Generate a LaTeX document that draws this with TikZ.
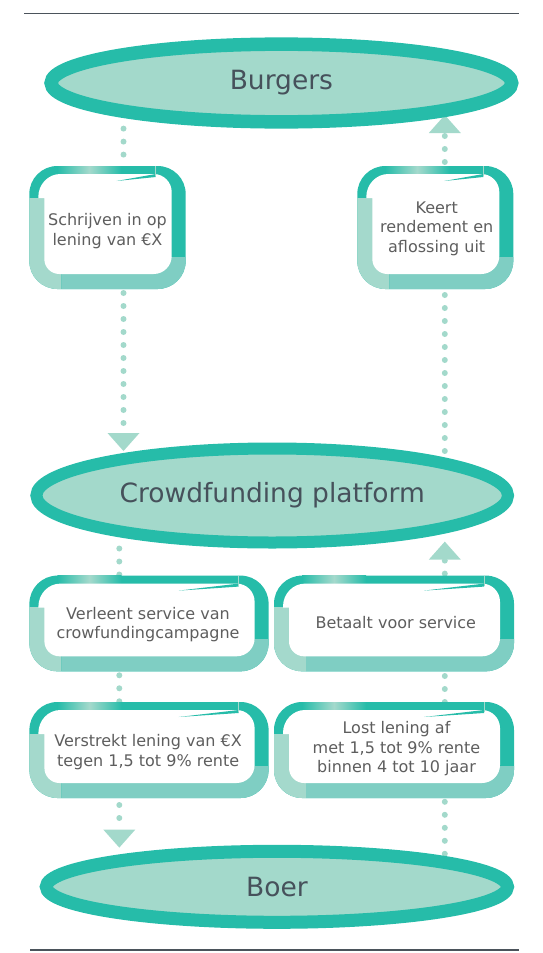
\documentclass[tikz,border=0pt]{standalone}
\usepackage{fontspec}
\setmainfont{DejaVu Sans}
\usetikzlibrary{shapes.geometric,arrows.meta}
\definecolor{tealdark}{HTML}{26BCA9}
\definecolor{teallight}{HTML}{A4D9CC}
\definecolor{tealmid}{HTML}{7FCEC3}
\definecolor{ellfill}{HTML}{A3D9CB}
\definecolor{elltext}{HTML}{46515B}
\definecolor{boxtext}{HTML}{5E5E5E}
\definecolor{rulegray}{HTML}{4B535B}
\pgfdeclarelayer{bg}
\pgfsetlayers{bg,main}

% name, L, T, R, B  (pixel coordinates, y downwards)
\newcommand{\flowbox}[5]{%
  \fill[tealdark, rounded corners=28pt] (#2,#3) rectangle (#4,#5);
  \begin{scope}
    \clip (#2,{#3+32}) rectangle ({#2+32},#5);
    \fill[teallight, rounded corners=28pt] (#2,#3) rectangle (#4,#5);
  \end{scope}
  \begin{scope}
    \clip ({#2+32},{#5-32}) rectangle (#4,#5);
    \fill[tealmid, rounded corners=28pt] (#2,#3) rectangle (#4,#5);
  \end{scope}
  \shade[left color=tealdark, right color=tealdark, middle color=teallight]
    ({#2+28},#3) rectangle ({#2+92},{#3+9});
  \fill[white] ({#2+15},{#3+32}) -- ({#2+15},{#5-30})
    arc[start angle=180, end angle=90, radius=15]
    -- ({#4-32},{#5-15})
    arc[start angle=90, end angle=0, radius=18]
    -- ({#4-14},{#3+26})
    arc[start angle=0, end angle=-90, radius=18]
    -- ({#2+31},{#3+8})
    arc[start angle=-90, end angle=-180, x radius=22, y radius=23]
    -- ({#2+9},{#3+32}) -- cycle;
  \fill[tealdark] ({#4-30-0.25*(#4-#2)},{#3+15}) -- ({#4-30},{#3+8})
    -- ({#4-30},{#3+11}) -- cycle;
  \draw[teallight, line width=0.7pt] ({#4-30},#3) -- ({#4-30},{#3+10});
  \node[boxframe, minimum width={#4-#2}, minimum height={#5-#3}]
    (#1) at ({(#2+#4)/2},{(#3+#5)/2}) {};
}

\begin{document}
\begin{tikzpicture}[x=1pt,y=-1pt,
  ell/.style={ellipse, draw=tealdark, fill=ellfill, inner sep=0pt,
    text=elltext, font=\fontsize{26.5}{30}\selectfont},
  boxframe/.style={rectangle, inner sep=0pt, outer sep=0pt},
  boxlabel/.style={align=center, text=boxtext, inner sep=0pt,
    font=\fontsize{16}{19.5}\selectfont},
  dotline/.style={draw=ellfill, line width=6pt, line cap=round,
    dash pattern=on 0pt off 13pt},
  arrowend/.style={-{Triangle[width=32pt,length=18pt,line width=0pt]}},
  rule/.style={draw=rulegray, line width=1.3pt}]

\useasboundingbox (0,0) rectangle (542,953);

% horizontal rules
\coordinate (ruleTa) at (24.2,13.8);
\coordinate (ruleTb) at (518.5,13.8);
\coordinate (ruleBa) at (30.4,950);
\coordinate (ruleBb) at (518.5,950);
\draw[rule] (ruleTa) -- (ruleTb);
\draw[rule] (ruleBa) -- (ruleBb);

% column coordinates for connectors
\coordinate (colA) at (123.5,0);
\coordinate (colB) at (119.3,0);
\coordinate (colC) at (444.8,0);

% ellipses
\node[ell, line width=13.5pt, minimum width=460.5pt, minimum height=77.7pt]
  (burgers) at (281.4,83) {Burgers};
\node[ell, line width=12pt, minimum width=471.6pt, minimum height=94pt]
  (cf) at (272.2,495.5) {Crowdfunding platform};
\node[ell, line width=13pt, minimum width=461.2pt, minimum height=71pt]
  (boer) at (276.9,886.8) {Boer};

% boxes
\flowbox{b1}{29.3}{166}{185.7}{289}
\flowbox{b2}{357.3}{166}{513.3}{289}
\flowbox{b3}{29.4}{575.6}{268.6}{671.3}
\flowbox{b4}{274}{575.6}{514}{671.3}
\flowbox{b5}{29.4}{702}{268.6}{798}
\flowbox{b6}{274}{702}{514}{798}

% box texts
\node[boxlabel] (t1) at (107.5,231) {Schrijven in op\\lening van €X};
\node[boxlabel] (t2) at (436.7,228.5) {Keert\\rendement en\\aflossing uit};
\node[boxlabel] (t3) at (148,624.5) {Verleent service van\\crowfundingcampagne};
\node[boxlabel] (t4) at (395.8,622.5) {Betaalt voor service};
\node[boxlabel] (t5) at (148.1,752) {Verstrekt lening van €X\\tegen 1,5 tot 9\% rente};
\node[boxlabel] (t6) at (396.5,749) {Lost lening af\\met 1,5 tot 9\% rente\\binnen 4 tot 10 jaar};

% connectors
\begin{pgfonlayer}{bg}
\draw[dotline] (burgers.south -| colA) -- (b1.north -| colA);
\draw[dotline, arrowend, shorten <=4pt, shorten >=-8.5pt]
  (b1.south -| colA) -- (cf.north -| colA);
\draw[dotline, shorten <=-8.5pt] (cf.north -| colC) -- (b2.south -| colC);
\draw[dotline, arrowend, shorten <=4pt, shorten >=-13.6pt]
  (b2.north -| colC) -- (burgers.south -| colC);
\draw[dotline] (cf.south -| colB) -- (b3.north -| colB);
\draw[dotline, shorten <=4pt] (b3.south -| colB) -- (b5.north -| colB);
\draw[dotline, arrowend, shorten <=7pt, shorten >=-2.8pt]
  (b5.south -| colB) -- (boer.north -| colB);
\draw[dotline, shorten <=-9pt] (boer.north -| colC) -- (b6.south -| colC);
\draw[dotline] (b6.north -| colC) -- (b4.south -| colC);
\draw[dotline, arrowend, shorten <=2pt, shorten >=-6.9pt]
  (b4.north -| colC) -- (cf.south -| colC);
\end{pgfonlayer}
\end{tikzpicture}
\end{document}
